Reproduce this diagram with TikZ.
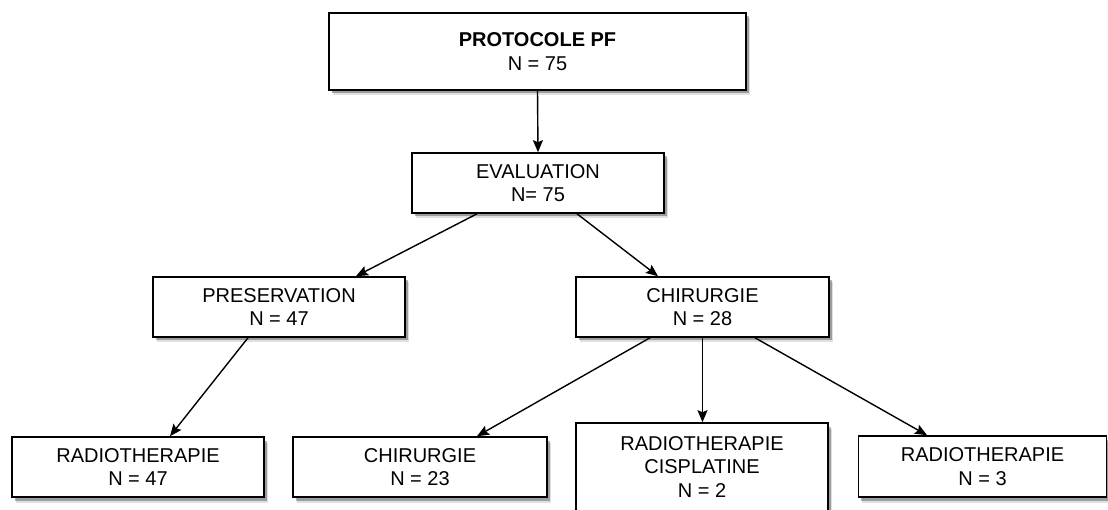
\documentclass[tikz,border=0pt]{standalone}
\usepackage{fontspec}
\setmainfont{Liberation Sans}
\usetikzlibrary{shadows,arrows.meta}
\tikzset{
  box/.style={draw=black, line width=1.6pt, fill=white, align=center,
    inner sep=0pt, font=\fontsize{20}{23.5}\selectfont,
    drop shadow={shadow xshift=3.5pt, shadow yshift=-5.5pt, fill=black, opacity=0.12},
    drop shadow={shadow xshift=2.5pt, shadow yshift=-3.5pt, fill=black, opacity=0.3}},
  arr/.style={draw=black, line width=1.4pt, -{Stealth[length=12pt,width=10pt,inset=2pt]}}
}
\begin{document}
\begin{tikzpicture}[x=1pt,y=-1pt]
\useasboundingbox (0,0) rectangle (1108,510);
\node[box, minimum width=417pt, minimum height=77pt] (prot) at (537.5,51.5) {\textbf{PROTOCOLE PF}\\N = 75};
\node[box, minimum width=252pt, minimum height=60pt] (eval) at (538,183) {EVALUATION\\N= 75};
\node[box, minimum width=252pt, minimum height=60pt] (pres) at (279,307) {PRESERVATION\\N = 47};
\node[box, minimum width=253pt, minimum height=60pt] (chir) at (702.5,307) {CHIRURGIE\\N = 28};
\node[box, minimum width=252pt, minimum height=60pt] (radA) at (138,467) {RADIOTHERAPIE\\N = 47};
\node[box, minimum width=254pt, minimum height=60pt] (chirB) at (420,467) {CHIRURGIE\\N = 23};
\node[box, minimum width=252pt, minimum height=88pt] (radC) at (702,467) {RADIOTHERAPIE\\CISPLATINE\\N = 2};
\node[box, minimum width=248pt, minimum height=61pt] (radD) at (982.5,466.5) {RADIOTHERAPIE\\N = 3};

\draw[arr] (prot.south) -- (eval.north);
\draw[arr] ([xshift=-61pt]eval.south) -- ([xshift=77pt]pres.north);
\draw[arr] ([xshift=39pt]eval.south) -- ([xshift=-44.5pt]chir.north);
\draw[arr] ([xshift=-31pt]pres.south) -- ([xshift=32pt]radA.north);
\draw[arr] ([xshift=-52.5pt]chir.south) -- ([xshift=57pt]chirB.north);
\draw[arr] (chir.south) -- (chir.south |- radC.north);
\draw[arr] ([xshift=52.5pt]chir.south) -- ([xshift=-55.5pt]radD.north);
\end{tikzpicture}
\end{document}
